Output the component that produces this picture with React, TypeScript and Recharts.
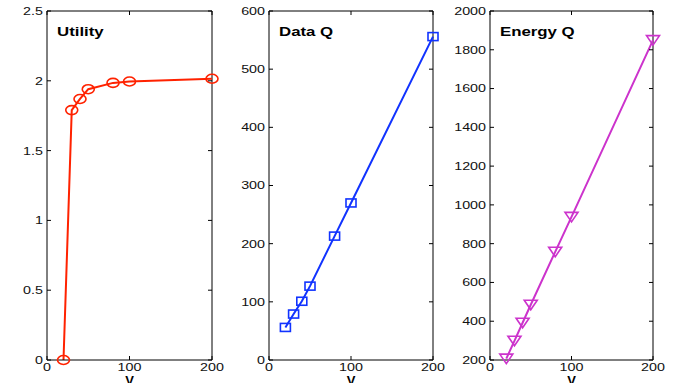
import { LineChart, Line, XAxis, YAxis, ReferenceLine } from "recharts";

const vValues = [20, 30, 40, 50, 80, 100, 200];
const utility = [0, 1.79, 1.87, 1.94, 1.985, 1.995, 2.015];
const dataQ = [56, 79, 101, 127, 213, 270, 556];
const energyQ = [207, 299, 392, 485, 758, 938, 1850];

const xTicks = [0, 100, 200];
const utilityTicks = [0, 0.5, 1, 1.5, 2, 2.5];
const dataQTicks = [0, 100, 200, 300, 400, 500, 600];
const energyQTicks = [200, 400, 600, 800, 1000, 1200, 1400, 1600, 1800, 2000];

const H = 383;
const TOP = 11;
const RIGHT = 18;
const FONT = "'Liberation Sans', Arial, Helvetica, sans-serif";
const TICK_LEN = 4;
const STRETCH = 1.3;

// ticks point inward on all four sides, MATLAB style
const BottomTick = (p: any) => {
  const axisY = p.y - 3;
  return (
    <g>
      <line x1={p.x} x2={p.x} y1={axisY} y2={axisY - TICK_LEN} stroke="#000" />
      <line x1={p.x} x2={p.x} y1={TOP} y2={TOP + TICK_LEN} stroke="#000" />
      <text
        transform={`translate(${p.x},${p.y}) scale(${STRETCH},1)`}
        textAnchor="middle"
        dy="0.71em"
        fontSize={11}
        fontFamily={FONT}
        fill="#111"
      >
        {p.payload.value}
      </text>
    </g>
  );
};

const LeftTick = (p: any) => {
  const axisX = p.x + 4;
  return (
    <g>
      <line x1={axisX} x2={axisX + TICK_LEN} y1={p.y} y2={p.y} stroke="#000" />
      <line x1={p.plotRight} x2={p.plotRight - TICK_LEN} y1={p.y} y2={p.y} stroke="#000" />
      <text
        transform={`translate(${p.x},${p.y}) scale(${STRETCH},1)`}
        textAnchor="end"
        dy="0.355em"
        fontSize={11}
        fontFamily={FONT}
        fill="#111"
      >
        {p.payload.value}
      </text>
    </g>
  );
};

type Marker = "circle" | "square" | "triangle";

const makeDot = (marker: Marker, color: string) => (p: any) => {
  const { cx, cy } = p;
  const k = `m${p.index}`;
  if (marker === "circle")
    return <ellipse key={k} cx={cx} cy={cy} rx={6} ry={4.5} fill="none" stroke={color} strokeWidth={1.6} />;
  if (marker === "square")
    return <rect key={k} x={cx - 5} y={cy - 4} width={10} height={8} fill="none" stroke={color} strokeWidth={1.6} />;
  return (
    <polygon
      key={k}
      points={`${cx - 6.5},${cy - 4.5} ${cx + 6.5},${cy - 4.5} ${cx},${cy + 5}`}
      fill="none"
      stroke={color}
      strokeWidth={1.6}
    />
  );
};

interface PanelProps {
  title: string;
  values: number[];
  ticks: number[];
  color: string;
  marker: Marker;
  left: number;
  width: number;
  axisWidth: number;
}

function Panel({ title, values, ticks, color, marker, left, width, axisWidth }: PanelProps) {
  const rows = vValues.map((v, i) => ({ v, y: values[i] }));
  const yMin = ticks[0];
  const yMax = ticks[ticks.length - 1];
  const plotRight = width - RIGHT;
  return (
    <div style={{ position: "absolute", left, top: 0, width, height: H }}>
      <LineChart width={width} height={H} data={rows} margin={{ top: TOP, right: RIGHT, bottom: 0, left: 0 }}>
        <XAxis
          dataKey="v"
          type="number"
          domain={[0, 200]}
          ticks={xTicks}
          interval={0}
          height={23}
          tickSize={0}
          tickMargin={3}
          tickLine={false}
          axisLine={{ stroke: "#000" }}
          tick={<BottomTick />}
          label={{
            value: "V",
            position: "insideBottom",
            offset: -2,
            fontSize: 13,
            fontWeight: "bold",
            fontFamily: FONT,
            fill: "#000",
          }}
        />
        <YAxis
          type="number"
          domain={[yMin, yMax]}
          ticks={ticks}
          interval={0}
          width={axisWidth}
          tickSize={0}
          tickMargin={4}
          tickLine={false}
          axisLine={{ stroke: "#000" }}
          tick={<LeftTick plotRight={plotRight} />}
        />
        {/* top and right edges of the box */}
        <ReferenceLine y={yMax} stroke="#000" strokeWidth={1} />
        <ReferenceLine x={200} stroke="#000" strokeWidth={1} />
        <Line
          type="linear"
          dataKey="y"
          stroke={color}
          strokeWidth={2}
          dot={makeDot(marker, color)}
          activeDot={false}
          isAnimationActive={false}
        />
      </LineChart>
      <div
        style={{
          position: "absolute",
          left: axisWidth + 10,
          top: 25,
          fontFamily: FONT,
          fontWeight: "bold",
          fontSize: 12,
          lineHeight: "14px",
          whiteSpace: "nowrap",
          transform: "scaleX(1.4)",
          transformOrigin: "left",
          color: "#000",
        }}
      >
        {title}
      </div>
    </div>
  );
}

export default function App() {
  return (
    <div style={{ position: "absolute", left: 0, top: 0, width: 686, height: H, background: "#fff", overflow: "hidden" }}>
      <Panel title="Utility" values={utility} ticks={utilityTicks} color="#ff2200" marker="circle" left={0} width={230} axisWidth={47} />
      <Panel title="Data Q" values={dataQ} ticks={dataQTicks} color="#1133ff" marker="square" left={230} width={221} axisWidth={39} />
      <Panel title="Energy Q" values={energyQ} ticks={energyQTicks} color="#cc33cc" marker="triangle" left={450} width={221} axisWidth={40} />
    </div>
  );
}
